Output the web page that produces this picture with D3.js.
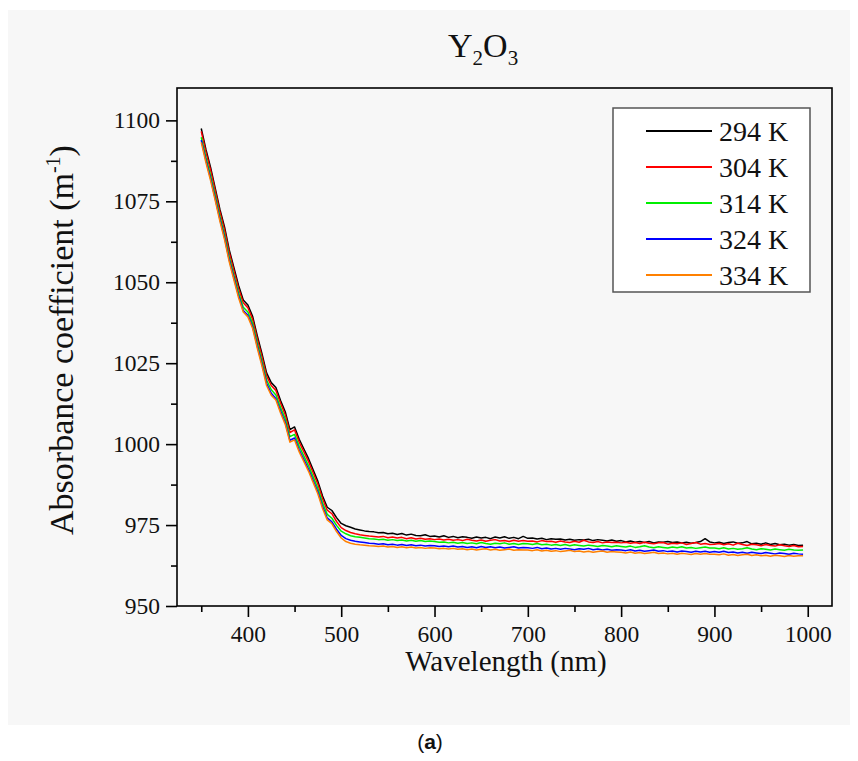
<!DOCTYPE html>
<html>
<head>
<meta charset="utf-8">
<script src="https://cdn.jsdelivr.net/npm/d3@7"></script>
<style>
  html, body { margin: 0; padding: 0; background: #ffffff; }
  svg { display: block; }
</style>
</head>
<body>
<svg id="chart" width="858" height="761"></svg>
<script>
// ---------------- DATA ----------------
const wavelengths = [
  350,355,360,365,370,375,380,385,390,395,400,405,410,415,420,425,430,435,440,445,
  450,455,460,465,470,475,480,485,490,495,500,505,510,515,520,
  525,530,535,540,545,550,555,560,565,570,575,580,585,590,595,
  600,605,610,615,620,625,630,635,640,645,650,655,660,665,670,675,680,685,690,695,
  700,705,710,715,720,725,730,735,740,745,750,755,760,765,770,775,780,785,790,795,
  800,805,810,815,820,825,830,835,840,845,850,855,860,865,870,875,880,885,890,895,
  900,905,910,915,920,925,930,935,940,945,950,955,960,965,970,975,980,985,990,995
];

const seriesNames = ["294 K", "304 K", "314 K", "324 K", "334 K"];

const values294 = [
  1097.5,1091.0,1085.5,1079.0,1072.5,1067.0,1060.0,1054.5,1049.0,1044.5,1043.0,1039.5,1033.5,1028.0,1022.0,1019.0,1017.5,1013.5,1010.0,1004.5,
  1005.3,1001.5,998.5,995.5,992.0,988.5,984.0,980.5,979.5,977.3,975.5,974.8,974.3,973.8,973.5,
  973.2,973.0,972.9,972.6,972.7,972.3,972.5,972.1,972.4,971.9,972.2,971.8,971.7,972.0,971.5,
  971.6,971.3,971.7,971.2,971.5,971.1,971.4,971.2,970.9,971.3,971.0,971.2,970.8,971.3,971.0,971.4,970.9,971.2,970.8,971.5,
  970.9,971.0,970.7,970.9,970.5,970.8,970.6,970.7,970.4,970.6,970.3,970.5,970.4,970.6,970.2,970.5,970.3,970.1,970.4,970.0,
  970.2,969.8,970.1,969.7,969.9,969.6,969.9,969.5,969.8,969.7,969.9,969.6,969.8,969.5,969.7,969.4,969.6,969.9,970.8,969.8,
  969.5,969.7,969.3,969.6,969.8,969.4,969.5,969.9,969.2,969.4,969.1,969.5,969.0,969.3,968.9,969.1,968.8,969.0,968.7,968.8
];

const values304 = [
  1096.6,1090.2,1084.6,1078.2,1071.7,1066.1,1059.2,1053.6,1048.1,1043.7,1042.1,1038.6,1032.6,1027.1,1021.1,1018.1,1016.6,1012.6,1009.1,1003.6,
  1004.4,1000.6,997.6,994.6,991.1,987.6,983.1,979.6,978.5,976.1,974.2,973.3,972.7,972.3,972.0,
  971.8,971.6,971.5,971.3,971.5,971.1,971.3,971.0,971.2,970.8,971.1,970.7,970.9,970.6,970.8,
  970.5,970.7,970.4,970.6,970.3,970.5,970.2,970.6,970.3,970.1,970.4,970.0,970.3,970.5,970.1,970.2,969.9,970.3,970.0,970.2,
  970.0,970.1,969.8,970.2,969.9,970.0,969.7,970.1,969.8,969.6,970.0,969.7,970.3,969.8,969.6,969.9,969.5,969.8,969.6,969.7,
  969.5,969.7,969.4,969.6,969.3,969.7,969.4,969.2,969.5,969.6,969.1,969.4,969.2,969.5,969.0,969.3,969.6,969.1,969.3,969.0,
  969.1,969.3,968.9,969.2,968.8,969.4,969.0,968.7,969.1,968.9,968.6,969.0,968.7,968.5,968.9,968.6,968.4,968.7,968.3,968.4
];

const values314 = [
  1094.8,1088.6,1083.0,1076.8,1070.3,1064.6,1057.8,1052.2,1046.8,1042.3,1040.8,1037.3,1031.3,1025.8,1019.8,1016.8,1015.2,1011.3,1007.8,1002.3,
  1003.0,999.3,996.3,993.3,989.8,986.3,981.8,978.3,977.1,974.9,973.1,972.3,971.7,971.4,971.2,
  971.0,970.8,970.7,970.5,970.6,970.3,970.5,970.2,970.4,970.1,970.3,970.0,970.2,969.9,970.1,
  969.9,969.7,969.8,969.5,969.7,969.4,969.6,969.3,969.5,969.2,969.6,969.3,969.1,969.4,969.2,969.5,969.1,969.3,969.0,969.3,
  969.2,969.0,969.3,968.9,969.1,968.8,969.0,968.7,969.0,968.6,968.9,968.7,968.5,968.8,968.6,968.4,968.7,968.5,968.3,968.6,
  968.4,968.2,968.5,968.1,968.3,968.6,968.2,968.0,968.3,968.1,967.9,968.2,968.0,968.3,967.9,968.1,967.8,968.0,968.2,967.9,
  967.9,967.7,968.0,967.6,967.8,967.5,967.7,968.0,967.6,967.4,967.7,967.5,967.3,967.6,967.4,967.2,967.5,967.3,967.2,967.3
];

const values324 = [
  1093.9,1087.6,1082.0,1075.8,1069.4,1063.7,1056.9,1051.3,1045.8,1041.3,1039.8,1036.3,1030.3,1024.8,1018.8,1015.7,1014.1,1010.2,1006.7,1001.2,
  1001.9,998.2,995.2,992.2,988.7,985.2,980.7,977.2,976.0,973.7,971.8,970.8,970.3,970.0,969.8,
  969.6,969.4,969.3,969.1,969.2,968.9,969.1,968.8,969.0,968.7,968.9,968.6,968.8,968.5,968.7,
  968.6,968.4,968.5,968.3,968.5,968.2,968.4,968.1,968.3,968.0,968.4,968.1,968.3,968.0,968.2,967.9,968.1,968.3,967.9,968.1,
  968.0,967.8,968.1,967.7,967.9,967.6,967.8,967.5,967.8,967.6,967.4,967.7,967.5,967.8,967.4,967.6,967.3,967.5,967.2,967.4,
  967.3,967.1,967.4,967.0,967.2,966.9,967.1,967.3,966.9,967.1,966.8,967.0,966.7,967.0,966.8,966.6,966.9,966.7,966.9,966.6,
  966.8,966.6,966.9,966.5,966.7,966.4,966.6,966.3,966.6,966.4,966.2,966.5,966.3,966.1,966.4,966.2,966.0,966.3,966.1,966.0
];

const values334 = [
  1093.2,1087.0,1081.4,1075.2,1068.8,1063.1,1056.3,1050.7,1045.2,1040.8,1039.3,1035.8,1029.7,1024.2,1018.1,1015.1,1013.6,1009.6,1006.1,1000.6,
  1001.3,997.6,994.6,991.6,988.1,984.6,980.1,976.6,975.4,973.0,971.0,969.9,969.4,969.1,968.9,
  968.8,968.6,968.5,968.4,968.5,968.2,968.4,968.1,968.3,968.0,968.2,967.9,968.1,967.8,968.0,
  967.9,967.7,967.8,967.6,967.8,967.5,967.7,967.4,967.6,967.3,967.5,967.7,967.3,967.5,967.2,967.4,967.6,967.2,967.4,967.3,
  967.3,967.1,967.4,967.0,967.2,966.9,967.1,966.8,967.0,967.2,966.8,967.0,966.7,966.9,966.6,966.8,967.0,966.6,966.8,966.7,
  966.6,966.4,966.7,966.3,966.5,966.2,966.4,966.6,966.2,966.4,966.1,966.3,966.0,966.3,966.1,965.9,966.2,966.0,966.2,966.0,
  966.0,965.8,966.1,965.7,965.9,965.6,965.8,966.0,965.6,965.8,965.5,965.7,965.4,965.7,965.5,965.3,965.6,965.4,965.5,965.5
];

const seriesColors = ["#000000", "#ff0000", "#00ee00", "#0000ff", "#ff8000"];

const xMajorTicks = [400, 500, 600, 700, 800, 900, 1000];
const xMinorTicks = [350, 450, 550, 650, 750, 850, 950];
const yMajorTicks = [950, 975, 1000, 1025, 1050, 1075, 1100];
const yMinorTicks = [962.5, 987.5, 1012.5, 1037.5, 1062.5, 1087.5];

// ---------------- CHART ----------------
const allSeries = [values294, values304, values314, values324, values334];
const svg = d3.select("#chart");
const serif = "'Liberation Serif', 'Times New Roman', serif";

// panel background
svg.append("rect").attr("x", 8).attr("y", 10).attr("width", 842).attr("height", 715)
  .attr("fill", "#f7f7f7");

const L = 177, R = 832, T = 88, B = 606;
const x = d3.scaleLinear().domain([324, 1026]).range([L, R]);
const y = d3.scaleLinear().domain([950, 1110]).range([B, T]);

// series lines
const line = d3.line().x((d, i) => x(wavelengths[i])).y(d => y(d));
const plot = svg.append("g");
allSeries.forEach((vals, k) => {
  plot.append("path").datum(vals)
    .attr("d", line)
    .attr("fill", "none")
    .attr("stroke", seriesColors[k])
    .attr("stroke-width", 1.5)
    .attr("stroke-linejoin", "round");
});

// frame
svg.append("rect").attr("x", L).attr("y", T).attr("width", R - L).attr("height", B - T)
  .attr("fill", "none").attr("stroke", "#000").attr("stroke-width", 1.6);

// axes
function styleAxis(g) {
  g.select(".domain").remove();
  g.selectAll(".tick line").attr("stroke", "#000").attr("stroke-width", 1.6);
  g.selectAll(".tick text").attr("fill", "#111").style("font-family", serif).style("font-size", "23.5px");
}
svg.append("g").attr("transform", `translate(0,${B})`)
  .call(d3.axisBottom(x).tickValues(xMajorTicks).tickSize(11).tickPadding(8).tickFormat(d3.format("d")))
  .call(styleAxis);
svg.append("g").attr("transform", `translate(0,${B})`)
  .call(d3.axisBottom(x).tickValues(xMinorTicks).tickSize(6).tickFormat(""))
  .call(styleAxis);
svg.append("g").attr("transform", `translate(${L},0)`)
  .call(d3.axisLeft(y).tickValues(yMajorTicks).tickSize(11).tickPadding(6).tickFormat(d3.format("d")))
  .call(styleAxis);
svg.append("g").attr("transform", `translate(${L},0)`)
  .call(d3.axisLeft(y).tickValues(yMinorTicks).tickSize(6).tickFormat(""))
  .call(styleAxis);

// title
const title = svg.append("text").attr("x", 448).attr("y", 57)
  .style("font-family", serif).style("font-size", "34px").attr("fill", "#111");
title.append("tspan").text("Y");
title.append("tspan").attr("dy", 8).style("font-size", "21px").text("2");
title.append("tspan").attr("dy", -8).text("O");
title.append("tspan").attr("dy", 8).style("font-size", "21px").text("3");

// x label
svg.append("text").attr("x", 506).attr("y", 671).attr("text-anchor", "middle")
  .style("font-family", serif).style("font-size", "29px").attr("fill", "#111")
  .text("Wavelength (nm)");

// y label
const yl = svg.append("text").attr("transform", "translate(73,340) rotate(-90)")
  .attr("text-anchor", "middle")
  .style("font-family", serif).style("font-size", "34px").attr("fill", "#111");
yl.append("tspan").text("Absorbance coefficient (m");
yl.append("tspan").attr("dy", -13).style("font-size", "20px").text("-1");
yl.append("tspan").attr("dy", 13).text(")");

// legend
const lg = svg.append("g");
lg.append("rect").attr("x", 613).attr("y", 108).attr("width", 197).attr("height", 184)
  .attr("fill", "#ffffff").attr("stroke", "#555").attr("stroke-width", 1.5);
seriesNames.forEach((name, k) => {
  const cy = 131 + k * 36;
  lg.append("line").attr("x1", 646).attr("x2", 712).attr("y1", cy).attr("y2", cy)
    .attr("stroke", seriesColors[k]).attr("stroke-width", 2);
  lg.append("text").attr("x", 719).attr("y", cy + 10)
    .style("font-family", serif).style("font-size", "28px").attr("fill", "#111")
    .text(name);
});

// panel caption
const cap = svg.append("text").attr("x", 430).attr("y", 749).attr("text-anchor", "middle")
  .style("font-family", "'Liberation Sans Narrow', 'Liberation Sans', sans-serif").style("font-size", "21px").attr("fill", "#111");
cap.append("tspan").text("(");
cap.append("tspan").style("font-weight", "bold").text("a");
cap.append("tspan").text(")");
</script>
</body>
</html>
